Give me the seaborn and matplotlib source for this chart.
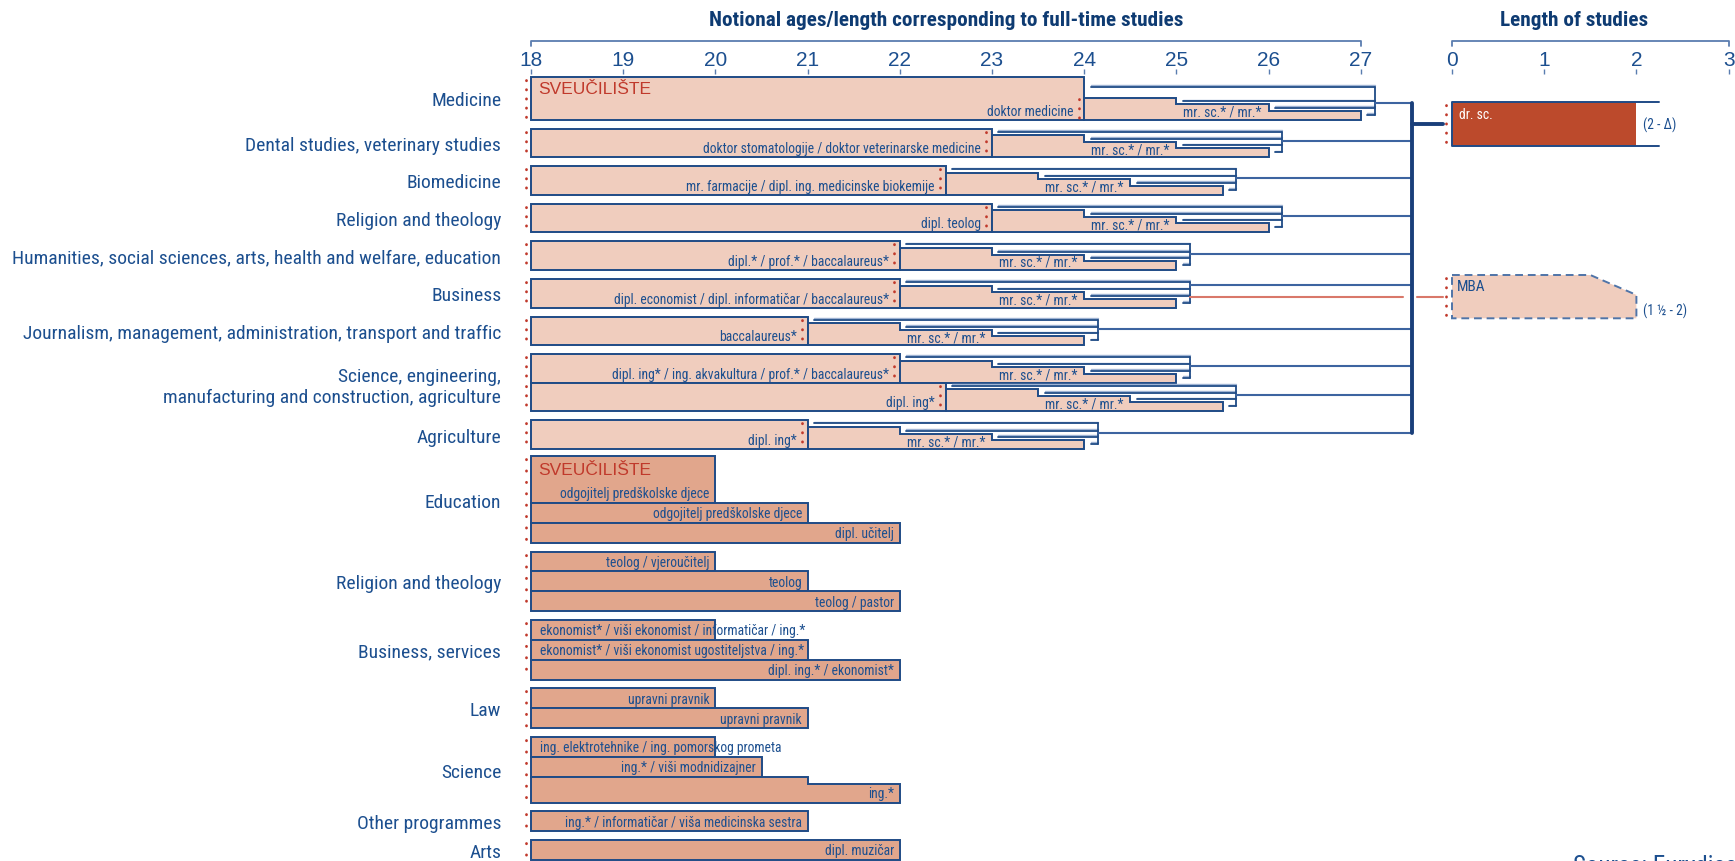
import matplotlib
matplotlib.use("Agg")
import matplotlib.pyplot as plt
from matplotlib.patches import Polygon
import seaborn as sns

# ---------------- data ----------------
age_ticks = [18, 19, 20, 21, 22, 23, 24, 25, 26, 27]
length_ticks = [0, 1, 2, 3]

upper_fields = [
    "Medicine",
    "Dental studies, veterinary studies",
    "Biomedicine",
    "Religion and theology",
    "Humanities, social sciences, arts, health and welfare, education",
    "Business",
    "Journalism, management, administration, transport and traffic",
    "Science, engineering,\nmanufacturing and construction, agriculture",
    "Agriculture",
]
upper_field_of_bar = [0, 1, 2, 3, 4, 5, 6, 7, 7, 8]
upper_first_end = [24, 23, 22.5, 23, 22, 22, 21, 22, 22.5, 21]
upper_first_labels = [
    "doktor medicine",
    "doktor stomatologije / doktor veterinarske medicine",
    "mr. farmacije / dipl. ing. medicinske biokemije",
    "dipl. teolog",
    "dipl.* / prof.* / baccalaureus*",
    "dipl. economist / dipl. informatičar / baccalaureus*",
    "baccalaureus*",
    "dipl. ing* / ing. akvakultura / prof.* / baccalaureus*",
    "dipl. ing*",
    "dipl. ing*",
]
upper_master_years = [3, 3, 3, 3, 3, 3, 3, 3, 3, 3]
master_label = "mr. sc.* / mr.*"
university_label = "SVEUČILIŠTE"
mba_feeder_bar = 5

lower_fields = ["Education", "Religion and theology", "Business, services", "Law",
                "Science", "Other programmes", "Arts"]
lower_field_of_bar = [0, 0, 0, 1, 1, 1, 2, 2, 2, 3, 3, 4, 4, 4, 5, 6]
lower_end = [20, 21, 22, 20, 21, 22, 20, 21, 22, 20, 21, 20, 20.5, 22, 21, 22]
lower_step_at = [None, None, None, None, None, None, None, None, None, None, None,
                 None, None, 21, None, None]
lower_labels = [
    "odgojitelj predškolske djece", "odgojitelj predškolske djece", "dipl. učitelj",
    "teolog / vjeroučitelj", "teolog", "teolog / pastor",
    "ekonomist* / viši ekonomist / informatičar / ing.*",
    "ekonomist* / viši ekonomist ugostiteljstva / ing.*",
    "dipl. ing.* / ekonomist*",
    "upravni pravnik", "upravni pravnik",
    "ing. elektrotehnike / ing. pomorskog prometa", "ing.* / viši modnidizajner", "ing.*",
    "ing.* / informatičar / viša medicinska sestra",
    "dipl. muzičar",
]
lower_label_side = ["r", "r", "r", "r", "r", "r", "l", "l", "r", "r", "r", "l", "r", "r", "r", "r"]

doctor_years = 2
doctor_label = "dr. sc."
doctor_note = "(2 - Δ)"
mba_years_min = 1.5
mba_years_max = 2
mba_label = "MBA"
mba_note = "(1 ½ - 2)"
source_text = "Source: Eurydice"

# ---------------- style ----------------
sns.set_theme(style="white")
plt.rcParams["font.family"] = ["Liberation Sans", "DejaVu Sans"]
COND = ["Roboto Condensed", "Liberation Sans Narrow", "DejaVu Sans Condensed", "DejaVu Sans"]
NARROW = ["Liberation Sans Narrow", "Roboto Condensed", "DejaVu Sans Condensed", "DejaVu Sans"]

PINK = "#F0CDBE"
SALMON = "#E1A68C"
EDGE = "#1F4B86"
LINE = "#3D64A0"
LIGHT = "#9FB3D3"
TXT = "#1C4F8F"
TITLE = "#0E3B72"
RED = "#C0392B"
DOC = "#BC4A2C"
MBA_RED = "#D9786A"
TRUNK = "#1A3F7A"

START = 18

# ---------------- layout ----------------
W, H = 1735, 862
PXU = 92.2
AX_TOP = 75
fig = plt.figure(figsize=(W / 100, H / 100), dpi=100)
fig.patch.set_facecolor("white")

mx0, mx1 = 17.7, 27.85
left_px = 531 + (mx0 - START) * PXU
ax = fig.add_axes([left_px / W, 0, (mx1 - mx0) * PXU / W, (H - AX_TOP) / H])
ax.set_xlim(mx0, mx1)
ax.set_ylim(H, AX_TOP)

rx0, rx1 = -0.15, 3.03
axr = fig.add_axes([(1452 + rx0 * PXU) / W, 0, (rx1 - rx0) * PXU / W, (H - AX_TOP) / H])
axr.set_xlim(rx0, rx1)
axr.set_ylim(H, AX_TOP)

for a in (ax, axr):
    sns.despine(ax=a, left=True, bottom=True, top=True, right=True)
    a.set_facecolor("none")
    a.grid(False)

# row positions (pixels from top)
UP_TOP, UP_H, MED_H, GAP = 77.5, 28.7, 43.1, 8.9
up_tops, up_h = [], []
y, prev = UP_TOP, None
for i, f in enumerate(upper_field_of_bar):
    if prev is not None and f != prev:
        y += GAP
    h = MED_H if i == 0 else UP_H
    up_tops.append(y); up_h.append(h)
    y += h; prev = f

LOW_H, LOW_FIRST_H, NOTCH_H, LOW_GAP = 19.9, 46.7, 26.0, 8.7
lo_tops, lo_h = [], []
y, prev = 457.3, None
for j, f in enumerate(lower_field_of_bar):
    if prev is not None and f != prev:
        y += LOW_GAP
    h = LOW_FIRST_H if j == 0 else (NOTCH_H if lower_step_at[j] is not None else LOW_H)
    lo_tops.append(y); lo_h.append(h)
    y += h; prev = f


def dots(a, x, y0, y1, period=3.2):
    a.plot([x, x], [y0, y1], color=RED, lw=2.0, linestyle=(0, (0.1, period)),
           dash_capstyle="round", clip_on=False, zorder=6)


def dline(a, xs, ys):
    a.plot(xs, [v - 1.6 for v in ys], color=LIGHT, lw=1.0, clip_on=False, zorder=3)
    a.plot(xs, ys, color=EDGE, lw=1.3, clip_on=False, zorder=3)


TRUNK_X = 27.55
DR_TOP, DR_H = 103.3, 43.7
MBA_TOP, MBA_H = 276.0, 43.3
conn_ys = []
LBL = 9.8

# ---------------- upper (university) rows ----------------
for i in range(len(upper_first_end)):
    top, h = up_tops[i], up_h[i]
    bot = top + h
    x1 = upper_first_end[i]
    yrs = upper_master_years[i]
    ax.barh(top, x1 - START, left=START, height=h, align="edge",
            color=PINK, edgecolor=EDGE, linewidth=1.4, zorder=2, clip_on=False)
    # stepped master bar
    t1, t2, t3 = bot - 22, bot - 15.5, bot - 9
    s = yrs / 3.0
    verts = [(x1, bot), (x1, t1), (x1 + s, t1), (x1 + s, t2), (x1 + 2 * s, t2),
             (x1 + 2 * s, t3), (x1 + yrs, t3), (x1 + yrs, bot)]
    ax.add_patch(Polygon(verts, closed=True, facecolor=PINK, edgecolor=EDGE,
                         linewidth=1.4, zorder=2))
    # bracket lines
    xb = x1 + yrs + 0.15
    ya = bot - min(h - 3, 33)
    yb_, yc, yd = bot - 18.4, bot - 12, bot - 5
    dline(ax, [x1 + 0.07, xb], [ya, ya])
    dline(ax, [x1 + s + 0.07, xb], [yb_, yb_])
    dline(ax, [x1 + 2 * s + 0.07, xb], [yc, yc])
    dline(ax, [x1 + yrs + 0.07, xb], [yd, yd])
    ax.plot([xb, xb], [ya, yd], color=EDGE, lw=1.3, zorder=3)
    yconn = bot - (23 if i == mba_feeder_bar else 16.4)
    conn_ys.append(yconn)
    ax.plot([xb, TRUNK_X], [yconn, yconn], color=LINE, lw=1.5, zorder=3)
    if i == mba_feeder_bar:
        ym = MBA_TOP + MBA_H / 2
        ax.plot([xb, TRUNK_X - 0.09], [ym, ym], color=MBA_RED, lw=1.5, zorder=3)
        ax.plot([TRUNK_X + 0.06, 28 - 0.11], [ym, ym], color=MBA_RED, lw=1.5,
                clip_on=False, zorder=3)
    # dotted markers
    dots(ax, START - 0.05, top + 3, bot - 2)
    if i == 0:
        dots(ax, x1 - 0.06, bot - 21, bot - 2)
        ax.text(START + 0.08, top + 12.5, university_label, color=RED, fontsize=12.5,
                ha="left", va="center", zorder=7)
    else:
        dots(ax, x1 - 0.06, top + 3, bot - 2)
    ax.text(x1 - 0.12, bot - 9, upper_first_labels[i], color=TXT, fontsize=LBL,
            family=NARROW, ha="right", va="center", zorder=7)
    ax.text(x1 + yrs / 2, bot - 8, master_label, color=TXT, fontsize=LBL,
            family=NARROW, ha="center", va="center", zorder=7)

# trunk
ax.plot([TRUNK_X, TRUNK_X], [conn_ys[0], conn_ys[-1]], color=TRUNK, lw=2.8, zorder=4)
ydr = DR_TOP + DR_H / 2
ax.plot([TRUNK_X, 28 - 0.11], [ydr, ydr], color=TRUNK, lw=2.8, clip_on=False, zorder=4)

# ---------------- lower (professional) rows ----------------
for j in range(len(lower_end)):
    top, h = lo_tops[j], lo_h[j]
    bot = top + h
    end = lower_end[j]
    step = lower_step_at[j]
    if step is None:
        ax.barh(top, end - START, left=START, height=h, align="edge",
                color=SALMON, edgecolor=EDGE, linewidth=1.4, zorder=2)
    else:
        nt = top + 7.4
        verts = [(START, top), (step, top), (step, nt), (end, nt), (end, bot), (START, bot)]
        ax.add_patch(Polygon(verts, closed=True, facecolor=SALMON, edgecolor=EDGE,
                             linewidth=1.4, zorder=2))
    if lower_label_side[j] == "r":
        ax.text(end - 0.06, bot - 9.5, lower_labels[j], color=TXT, fontsize=LBL,
                family=NARROW, ha="right", va="center", zorder=7)
    else:
        ax.text(START + 0.1, bot - 9.5, lower_labels[j], color=TXT, fontsize=LBL,
                family=NARROW, ha="left", va="center", zorder=7)
    if j == 0:
        ax.text(START + 0.08, top + 13.5, university_label, color=RED, fontsize=12.5,
                ha="left", va="center", zorder=7)

# left dotted markers per lower group, and y tick positions
up_centers, lo_centers = [], []
for g in range(len(upper_fields)):
    idx = [k for k, f in enumerate(upper_field_of_bar) if f == g]
    up_centers.append((up_tops[idx[0]] + up_tops[idx[-1]] + up_h[idx[-1]]) / 2)
for g in range(len(lower_fields)):
    idx = [k for k, f in enumerate(lower_field_of_bar) if f == g]
    t0 = lo_tops[idx[0]]
    b0 = lo_tops[idx[-1]] + lo_h[idx[-1]]
    lo_centers.append((t0 + b0) / 2)
    dots(ax, START - 0.05, t0 + 3, b0 - 2, period=4.0)

ax.set_yticks(up_centers + lo_centers)
ax.set_yticklabels(upper_fields + lower_fields, fontsize=14, color=TXT, family=COND)
ax.tick_params(axis="y", length=0, pad=1.5)

# ---------------- top axes ----------------
for a, ticks in ((ax, age_ticks), (axr, length_ticks)):
    a.set_xticks(ticks)
    a.set_xticklabels([str(t) for t in ticks])
    a.xaxis.tick_top()
    a.tick_params(axis="x", top=True, bottom=False, labeltop=True, labelbottom=False,
                  direction="out", length=3.5, width=1.0, color="#5A7DB0",
                  labelsize=15, labelcolor=TXT, pad=0)
axr.set_yticks([])

ax.plot([age_ticks[0], age_ticks[0], age_ticks[-1], age_ticks[-1]], [46.5, 42, 42, 46.5],
        color="#5A7DB0", lw=1.3, clip_on=False)
axr.plot([length_ticks[0], length_ticks[0], length_ticks[-1], length_ticks[-1]],
         [46.5, 42, 42, 46.5], color="#5A7DB0", lw=1.3, clip_on=False)

ax.text((age_ticks[0] + age_ticks[-1]) / 2, 20,
        "Notional ages/length corresponding to full-time studies",
        ha="center", va="center", fontsize=15.3, fontweight="bold", family=COND,
        color=TITLE, clip_on=False)
axr.text(1.32, 20, "Length of studies", ha="center", va="center", fontsize=15.3,
         fontweight="bold", family=COND, color=TITLE, clip_on=False)

# ---------------- right panel ----------------
axr.barh(DR_TOP, doctor_years, left=0, height=DR_H, align="edge", color=DOC,
         linewidth=0, zorder=2)
axr.plot([doctor_years + 0.25, 0, 0, doctor_years + 0.25],
         [DR_TOP, DR_TOP, DR_TOP + DR_H, DR_TOP + DR_H], color=EDGE, lw=1.4, zorder=3)
dots(axr, -0.06, DR_TOP + 3, DR_TOP + DR_H - 2)
axr.text(0.08, DR_TOP + 12, doctor_label, color="white", fontsize=LBL, family=NARROW,
         ha="left", va="center", zorder=7)
axr.text(doctor_years + 0.07, DR_TOP + DR_H / 2, doctor_note, color=TXT, fontsize=LBL,
         family=NARROW, ha="left", va="center")

mb = MBA_TOP + MBA_H
mverts = [(0, MBA_TOP), (mba_years_min, MBA_TOP), (mba_years_max, MBA_TOP + 0.46 * MBA_H),
          (mba_years_max, mb), (0, mb)]
axr.add_patch(Polygon(mverts, closed=True, facecolor=PINK, edgecolor="#4F74A8",
                      linewidth=1.4, linestyle=(0, (4, 2.5)), zorder=2))
dots(axr, -0.06, MBA_TOP + 3, mb - 2)
axr.text(0.05, MBA_TOP + 11, mba_label, color=TXT, fontsize=11, family=NARROW,
         ha="left", va="center", zorder=7)
axr.text(mba_years_max + 0.07, mb - 7.5, mba_note, color=TXT, fontsize=LBL,
         family=NARROW, ha="left", va="center")

axr.text(1.31, 874, source_text, color=TXT, fontsize=18, family=COND,
         ha="left", va="baseline", clip_on=False)

fig.savefig("out.png", dpi=100, facecolor="white")
